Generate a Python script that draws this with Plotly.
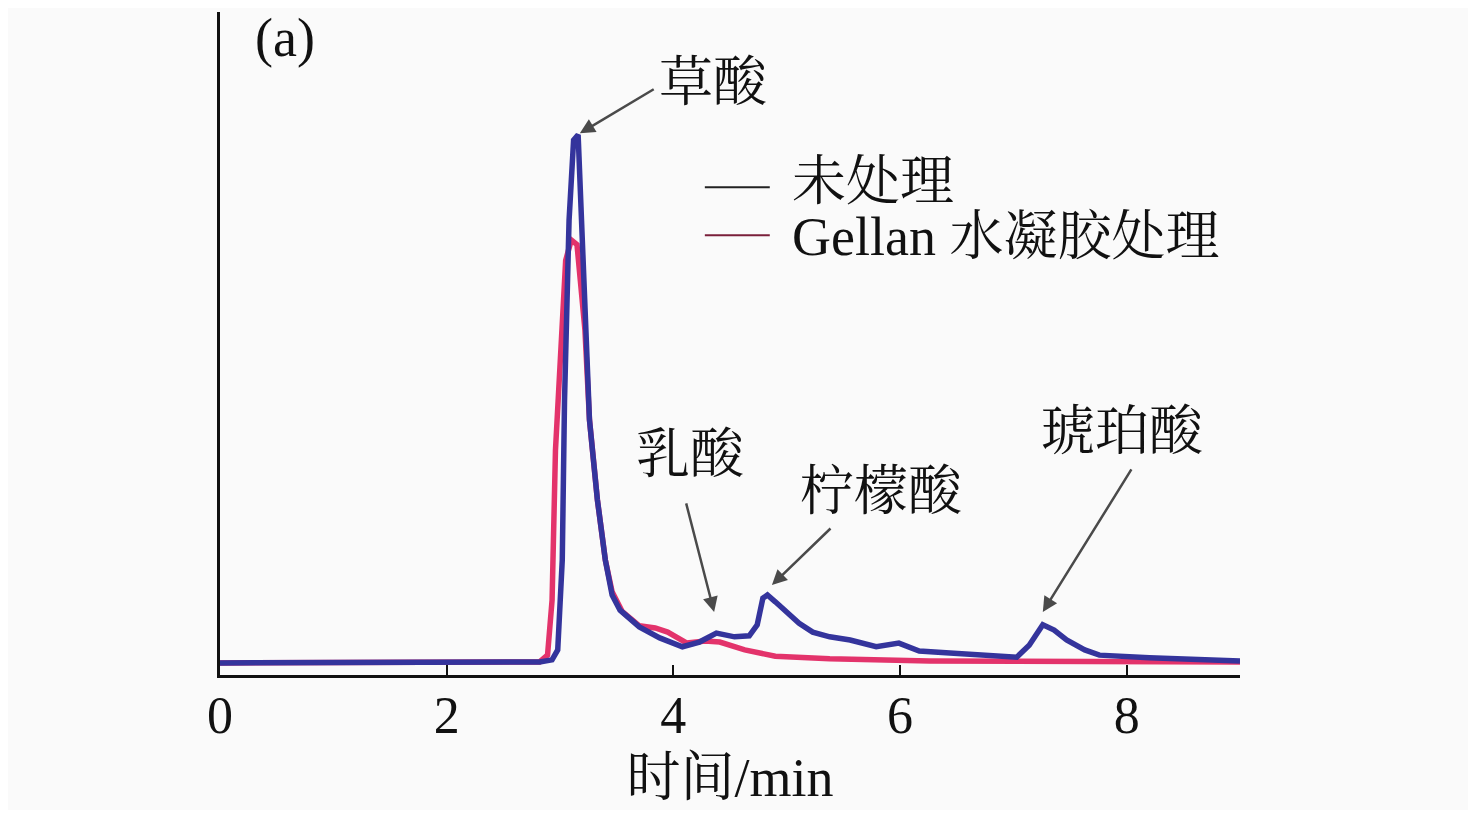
import plotly.graph_objects as go

# Untreated (blue) chromatogram
x_untreated = [0, 2.47, 2.82, 2.93, 2.98, 3.02, 3.04, 3.08, 3.12, 3.16, 3.19, 3.22, 3.26, 3.33, 3.40,
               3.46, 3.53, 3.70, 3.88, 4.08, 4.23, 4.38, 4.54, 4.67, 4.74, 4.79, 4.83, 4.90, 5.00,
               5.11, 5.23, 5.38, 5.56, 5.79, 5.99, 6.17, 6.44, 6.70, 7.03, 7.14, 7.26, 7.36, 7.47,
               7.63, 7.76, 8.20, 9.0]
y_untreated = [0, 0, 0.2, 0.6, 2.5, 19.7, 50.3, 84.7, 100, 101, 82.8, 65.6, 46.5, 31.2, 19.7,
               13.0, 10.1, 6.9, 4.8, 3.1, 4.0, 5.7, 5.0, 5.2, 7.3, 12.4, 13.0, 11.7, 9.6,
               7.6, 5.9, 5.0, 4.4, 3.1, 3.8, 2.3, 1.9, 1.5, 1.1, 3.4, 7.3, 6.3, 4.4,
               2.5, 1.5, 1.0, 0.4]

# Gellan hydrogel treated (red) chromatogram
x_gellan = [0, 2.47, 2.82, 2.89, 2.93, 2.96, 3.01, 3.05, 3.10, 3.15, 3.18, 3.22, 3.26, 3.33, 3.40,
            3.46, 3.55, 3.70, 3.84, 3.95, 4.12, 4.28, 4.41, 4.63, 4.90, 5.38, 6.26, 7.76, 9.0]
y_gellan = [0, 0, 0.2, 1.5, 12, 40.7, 63.7, 77, 80.9, 80, 73, 63.7, 46.5, 31.2, 19.7,
            13.6, 9.8, 7.1, 6.7, 5.9, 3.8, 4.2, 4.0, 2.5, 1.3, 0.8, 0.4, 0.4, 0.2]

series_names = ["未处理", "Gellan 水凝胶处理"]
legend_colors = ["#222222", "#7a1f3a"]
x_ticks = [0, 2, 4, 6, 8]

# Peak labels: text, text position, arrow tail, arrow head
peak_labels = ["草酸", "乳酸", "柠檬酸", "琥珀酸"]
label_x = [4.35, 4.15, 5.84, 7.96]
label_y = [111, 39.8, 32.7, 44.2]
arrow_tail_x = [3.84, 4.11, 5.40, 8.05]
arrow_tail_y = [109.9, 30.8, 26.0, 37.3]
arrow_head_x = [3.175, 4.36, 4.87, 7.26]
arrow_head_y = [101.3, 9.75, 14.9, 9.75]

# Legend layout (data coordinates)
legend_line_x0, legend_line_x1, legend_text_x = 4.278, 4.851, 5.028
legend_line_y = [91.0, 81.8]
legend_text_y = [92.0, 81.5]

FONT = "Liberation Serif, Noto Serif CJK SC, Noto Sans CJK SC, serif"

fig = go.Figure()
fig.add_trace(go.Scatter(x=x_gellan, y=y_gellan, mode="lines",
                         line=dict(color="#e3336b", width=5.5), showlegend=False,
                         name=series_names[1]))
fig.add_trace(go.Scatter(x=x_untreated, y=y_untreated, mode="lines",
                         line=dict(color="#34349c", width=5.5), showlegend=False,
                         name=series_names[0]))

for i, name in enumerate(series_names):
    fig.add_shape(type="line", xref="x", yref="y", x0=legend_line_x0, x1=legend_line_x1,
                  y0=legend_line_y[i], y1=legend_line_y[i],
                  line=dict(color=legend_colors[i], width=2))
    fig.add_annotation(x=legend_text_x, y=legend_text_y[i], xref="x", yref="y", text=name,
                       showarrow=False, xanchor="left",
                       font=dict(family=FONT, size=54, color="#111111"))

for i, t in enumerate(peak_labels):
    fig.add_annotation(x=arrow_head_x[i], y=arrow_head_y[i], ax=arrow_tail_x[i], ay=arrow_tail_y[i],
                       axref="x", ayref="y", xref="x", yref="y", text="", showarrow=True,
                       arrowhead=2, arrowsize=1.2, arrowwidth=2.5, arrowcolor="#4a4a4a")
    fig.add_annotation(x=label_x[i], y=label_y[i], xref="x", yref="y", text=t, showarrow=False,
                       font=dict(family=FONT, size=54, color="#111111"))

fig.add_annotation(x=0.57, y=119.5, xref="x", yref="y", text="(a)", showarrow=False,
                   font=dict(family=FONT, size=54, color="#111111"))

fig.update_layout(
    width=1460, height=802,
    paper_bgcolor="#fafafa", plot_bgcolor="#fafafa",
    margin=dict(l=212, r=228, t=4, b=135),
    font=dict(family=FONT, size=52, color="#111111"),
    showlegend=False,
    xaxis=dict(range=[0, 9], tickvals=x_ticks, ticktext=[str(v) for v in x_ticks],
               ticks="inside", ticklen=10, tickwidth=2, tickcolor="#111111",
               showline=True, linecolor="#111111", linewidth=2.5, showgrid=False, zeroline=False,
               tickfont=dict(family=FONT, size=52), ticklabelstandoff=-7,
               title=dict(text="时间/min", font=dict(family=FONT, size=54), standoff=16)),
    yaxis=dict(range=[-2.3, 124.5], showticklabels=False, ticks="", showline=True,
               linecolor="#111111", linewidth=2.5, showgrid=False, zeroline=False),
)

fig.write_html("out.html")
